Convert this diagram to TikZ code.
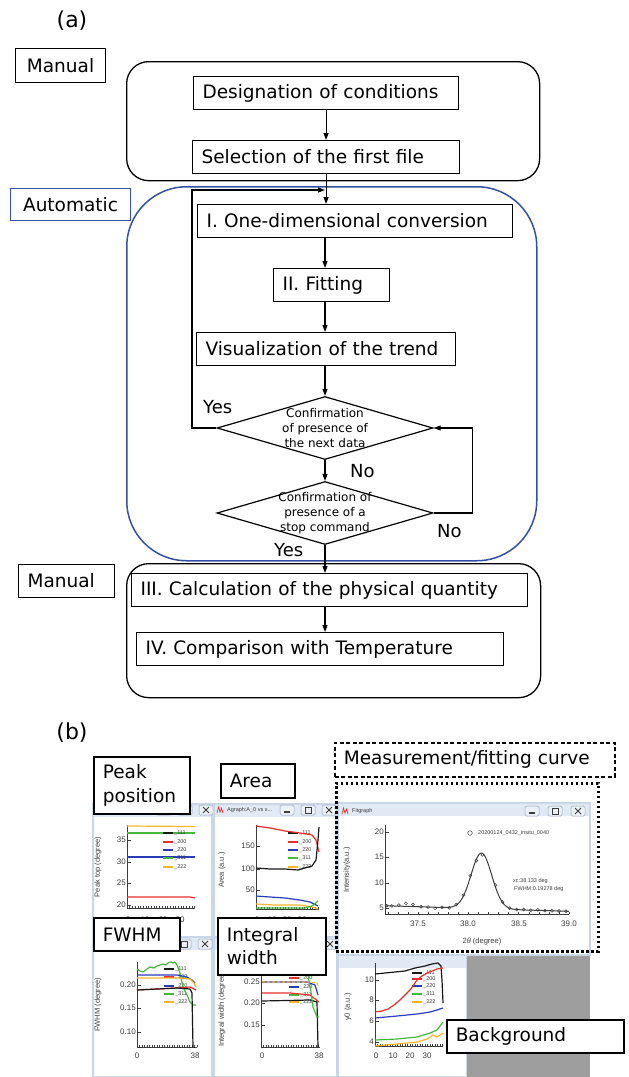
\documentclass[tikz,border=0pt]{standalone}
\usepackage{fontspec}
\setmainfont{DejaVu Sans}
\newfontfamily\plotf{Liberation Sans}
\usetikzlibrary{arrows.meta,shapes.geometric,calc}
\definecolor{autoblue}{RGB}{50,80,165}
\definecolor{wborder}{RGB}{200,214,232}
\definecolor{wtitle}{RGB}{224,233,244}
\definecolor{btnfill}{RGB}{236,241,248}
\definecolor{btnline}{RGB}{150,165,185}
\definecolor{pred}{RGB}{236,45,45}
\definecolor{pblue}{RGB}{40,60,185}
\definecolor{pgreen}{RGB}{70,185,60}
\definecolor{porange}{RGB}{255,180,40}
\definecolor{pblack}{RGB}{25,25,25}
\definecolor{graybg}{RGB}{158,158,158}
\definecolor{tickgray}{RGB}{60,60,60}
\tikzset{
  flowbox/.style={draw, line width=1.1pt, font=\fontsize{18.5}{22}\selectfont, inner xsep=9pt, inner ysep=0pt, minimum height=33pt, align=left, anchor=north west},
  tagbox/.style={draw, line width=1.1pt, fill=white, font=\fontsize{18.5}{22}\selectfont, inner xsep=9pt, inner ysep=0pt, anchor=north west},
  grp/.style={draw, line width=1.3pt, anchor=north west, inner sep=0pt},
  dia/.style={draw, diamond, line width=1.2pt, minimum width=216pt, minimum height=63pt, inner sep=0pt, aspect=3.43},
  diatext/.style={font=\fontsize{12}{15}\selectfont, align=center, inner sep=0pt},
  arr/.style={line width=1.1pt, -{Triangle[length=7pt,width=5pt]}},
  yn/.style={font=\fontsize{18}{20}\selectfont, inner sep=0pt, anchor=west},
  panel/.style={font=\fontsize{22}{24}\selectfont, inner sep=0pt},
  labbox/.style={draw, line width=1.6pt, fill=white, font=\fontsize{18.5}{23.5}\selectfont, inner xsep=9pt, inner ysep=0pt, align=left, anchor=north west},
  axisline/.style={tickgray, line width=0.8pt},
  ticklab/.style={font=\plotf\fontsize{8}{9}\selectfont, text=tickgray, inner sep=0.5pt},
  axlab/.style={font=\plotf\fontsize{7.5}{9}\selectfont, text=tickgray, inner sep=0pt, rotate=90},
  leglab/.style={font=\plotf\fontsize{5.5}{6}\selectfont, text=tickgray, inner sep=0pt},
  pl/.style={line width=1.2pt, line join=round},
}
\newcommand\plotaxes[5]{%
  \draw[axisline] (#1,#2) -- (#1,#4) -- (#3,#4);
  \pgfmathtruncatemacro\nmin{(#3-#1)/#5}%
  \foreach \k in {0,...,\nmin}{\draw[axisline,line width=0.45pt] ({#1+\k*#5},#4) -- ++(0,-2.2);}%
}
\newcommand\ytk[4]{\draw[axisline] (#2,#3) -- ++(4,0); \node[ticklab,anchor=east] (#1) at (#2-0.5,#3) {#4};}
\newcommand\xtl[4]{\node[ticklab] (#1) at (#2,#3) {#4};}
\newcommand\legitem[5]{\draw[#4, line width=1.3pt] (#2,#3) -- ++(10,0); \node[leglab,anchor=west] (#1) at (#2+11,#3) {#5};}
\newcommand\appwin[4]{%
  \fill[white] (#1,#2) rectangle (#3,#4);
  \fill[wtitle] (#1,#2) rectangle (#3,#2+13);
  \draw[wborder,line width=1.3pt] (#1,#2) rectangle (#3,#4);}
\newcommand\btnbox[2]{\draw[btnline,fill=btnfill,rounded corners=1.5pt,line width=0.5pt] (#1-7,#2-5) rectangle (#1+7,#2+5);}
\newcommand\btnset[3]{%
  \btnbox{#1-2*#3}{#2}\draw[tickgray,line width=1.1pt] (#1-2*#3-3,#2+2) -- (#1-2*#3+3,#2+2);
  \btnbox{#1-#3}{#2}\draw[tickgray,line width=0.7pt] (#1-#3-3,#2-3) rectangle (#1-#3+3,#2+3);
  \btnbox{#1}{#2}\draw[tickgray,line width=0.9pt] (#1-3,#2-3) -- (#1+3,#2+3) (#1-3,#2+3) -- (#1+3,#2-3);}
\newcommand\appicon[2]{\draw[pred,line width=0.7pt] (#1-3,#2+3) -- (#1-1.5,#2-3) -- (#1,#2+2) -- (#1+1.5,#2-2) -- (#1+3,#2+3);}
\begin{document}
\begin{tikzpicture}[x=1pt,y=-1pt]
\useasboundingbox (0,0) rectangle (629,1077);
\fill[white] (0,0) rectangle (629,1077);
% ================= (a) =================
\node[panel] (pa) at (72,21) {(a)};
\node[grp, rounded corners=22pt, minimum width=413pt, minimum height=119pt] (grpM1) at (126,61) {};
\node[grp, draw=autoblue, line width=1.5pt, rounded corners=60pt, minimum width=410pt, minimum height=374pt] (grpA) at (126,186) {};
\node[grp, rounded corners=22pt, minimum width=414pt, minimum height=134pt] (grpM2) at (126,563) {};
\node[tagbox, minimum width=90pt, minimum height=34pt, inner xsep=0pt] (man1) at (15,48) {Manual};
\node[tagbox, draw=autoblue, minimum width=120pt, minimum height=32pt, inner xsep=0pt] (auto) at (10,188) {Automatic};
\node[tagbox, text width=78pt, minimum height=33pt, align=left] (man2) at (18,564) {Manual};
\node[flowbox, text width=247pt] (desig) at (193,76) {\mbox{Designation of conditions}};
\node[flowbox, text width=249pt] (sel) at (192,140) {\mbox{Selection of the first file}};
\node[flowbox, text width=297pt] (conv) at (197,204) {\mbox{I. One-dimensional conversion}};
\node[flowbox, text width=98pt] (fitb) at (273,268) {\mbox{II. Fitting}};
\node[flowbox, text width=241pt] (vis) at (196,332) {\mbox{Visualization of the trend}};
\node[dia] (d1) at (325,428) {};
\node[diatext] (d1t) at (325,428) {Confirmation\\of presence of\\the next data};
\node[dia] (d2) at (325,513) {};
\node[diatext] (d2t) at (325,513) {Confirmation of\\presence of a\\stop command};
\node[flowbox, text width=378pt] (calc) at (131,573) {\mbox{III. Calculation of the physical quantity}};
\node[flowbox, text width=349pt] (comp) at (136,632) {\mbox{IV. Comparison with Temperature}};
\coordinate (loopin) at (325,190);
\coordinate (lc) at (192,190);
\draw[arr] (desig.south) -- (sel.north);
\draw[arr] (sel.south) -- (sel.south |- conv.north);
\draw[arr] (d1.west) -| (lc) -- (loopin);
\draw[arr] (conv.south -| d1.north) -- (fitb.north -| d1.north);
\draw[arr] (fitb.south -| d1.north) -- (vis.north -| d1.north);
\draw[arr] (vis.south -| d1.north) -- (d1.north);
\draw[arr] (d1.south) -- (d2.north);
\draw[arr] (d2.east) -- ++(39,0) |- (d1.east);
\draw[arr] (d2.south) -- (d2.south |- calc.north);
\draw[arr] (calc.south -| d2.south) -- (comp.north -| d2.south);
\node[yn] (yes1) at (203,407) {Yes};
\node[yn] (no1) at (350,471) {No};
\node[yn] (no2) at (437,531) {No};
\node[yn] (yes2) at (274,550) {Yes};
% ================= (b) =================
\node[panel] (pb) at (72,733) {(b)};
% windows
\appwin{93}{804}{212}{937}
\btnset{206}{810}{21}
\appwin{214}{804}{336}{937}
\btnset{329}{810}{21}
\appicon{220}{810}
\node[leglab,anchor=west] (w2t) at (227,810) {Agraph:A\_0 vs x...};
\appwin{93}{937}{212}{1077}
\btnset{205}{944}{21}
\appwin{214}{937}{337}{1077}
\btnset{330}{944}{21}
\appwin{338}{955}{467}{1077}
\fill[graybg] (467,955) rectangle (590,1077);
\appwin{338}{803}{590}{955}
\btnset{578}{811}{23}
\appicon{345}{811}
\node[leglab,anchor=west] (w3t) at (352,811) {Fitgraph};
% --- peak position plot
\plotaxes{127}{825}{195}{908}{2.7}
\ytk{pk35}{127}{840}{35}
\ytk{pk30}{127}{862}{30}
\ytk{pk25}{127}{883}{25}
\ytk{pk20}{127}{905}{20}
\xtl{pkx0}{128}{920}{0}
\xtl{pkx1}{145}{920}{10}
\xtl{pkx2}{163}{920}{20}
\xtl{pkx3}{180}{920}{30}
\node[axlab] (pky) at (98,867) {Peak top (degree)};
\draw[pl,porange] (127,826) -- (195,826.5);
\draw[pl,pgreen] (127,833) -- (195,833);
\draw[pl,pblue] (127,857) -- (195,857);
\draw[pl,pred] (127,897) -- (190,897) -- (195,898);
\legitem{pkl1}{163}{833}{pblack}{\_111}
\legitem{pkl2}{163}{842}{pred}{\_200}
\legitem{pkl3}{163}{850}{pblue}{\_220}
\legitem{pkl4}{163}{858}{pgreen}{\_311}
\legitem{pkl5}{163}{867}{porange}{\_222}
% --- area plot
\plotaxes{256}{825}{319}{909}{2.7}
\ytk{ar150}{256}{846}{150}
\ytk{ar100}{256}{869}{100}
\ytk{ar50}{256}{890}{50}
\xtl{arx0}{257}{920}{0}
\xtl{arx1}{272}{920}{10}
\xtl{arx2}{287}{920}{20}
\xtl{arx3}{302}{920}{30}
\node[axlab] (ary) at (222,870) {Area (a.u.)};
\legitem{arl1}{288}{833}{pblack}{\_111}
\legitem{arl2}{288}{842}{pred}{\_200}
\legitem{arl3}{288}{850}{pblue}{\_220}
\legitem{arl4}{288}{858}{pgreen}{\_311}
\legitem{arl5}{288}{867}{porange}{\_222}
\draw[pl,pred] plot coordinates {(256,826) (270,828) (285,831) (300,833) (312,835) (316,840) (319,852)};
\draw[pl,pblack] plot coordinates {(256,868) (270,869) (285,869) (298,870) (305,868) (312,866) (316,860) (318,840) (319,827)};
\draw[pl,pblue] plot coordinates {(256,896) (270,897) (285,898) (300,900) (310,902) (318,906)};
\draw[pl,porange] plot coordinates {(256,904) (275,905) (300,905) (312,907) (318,909)};
\draw[pl,pgreen] plot coordinates {(256,908) (280,908) (305,908) (312,906) (318,901)};
% --- fit plot
\draw[axisline] (385,825) -- (385,914) -- (569,914);
\foreach \t in {37.2,37.3,...,39.05}{\draw[axisline,line width=0.5pt] ({418+(\t-37.5)*100.7},914) -- ++(0,-2.5);}
\ytk{ft20}{385}{832}{20}
\ytk{ft15}{385}{857}{15}
\ytk{ft10}{385}{883}{10}
\ytk{ft5}{385}{908}{5}
\xtl{ftx1}{418}{924}{37.5}
\xtl{ftx2}{468}{924}{38.0}
\xtl{ftx3}{519}{924}{38.5}
\xtl{ftx4}{569}{924}{39.0}
\node[axlab] (fty) at (347,870) {Intensity(a.u.)};
\node[ticklab, font=\plotf\fontsize{7.5}{9}\selectfont] (ftxl) at (482,942) {2\textit{θ} (degree)};
\draw[tickgray, line width=1pt, smooth] plot[domain=37.17:39.0, samples=160] ({418+(\x-37.5)*100.7},{908-5.1*(0.45-0.6*(\x-37.17)+10.9*exp(-((\x-38.13)*(\x-38.13))/0.021))});
\foreach \t/\n in {37.19/0,37.24/0,37.31/0.2,37.38/0.6,37.45/0.4,37.53/0,37.60/0,37.67/-0.2,37.74/0,37.81/-0.1,37.88/0.1,37.95/0.2,38.02/0.3,38.08/-0.3,38.14/-0.3,38.27/0.4,38.34/0.1,38.41/0,38.48/0,38.55/0.1,38.62/0,38.69/0.1,38.76/0,38.83/0,38.90/0,38.97/0}{
  \draw[tickgray, line width=0.5pt] ({418+(\t-37.5)*100.7},{908-5.1*(0.45-0.6*(\t-37.17)+10.9*exp(-((\t-38.13)*(\t-38.13))/0.021)+\n)}) circle (1.5pt);}
\draw[tickgray, line width=0.5pt] (470,833) circle (2.3pt);
\node[leglab,anchor=west] (ftleg) at (478,833) {20200124\_0432\_insitu\_0040};
\node[leglab,anchor=west] (ftxc) at (513,881) {xc:38.133 deg};
\node[leglab,anchor=west] (ftfw) at (514,889) {FWHM:0.19278 deg};
% --- FWHM plot
\plotaxes{137}{962}{197}{1047}{2.5}
\ytk{fw20}{137}{985}{0.20}
\ytk{fw15}{137}{1008}{0.15}
\ytk{fw10}{137}{1032}{0.10}
\xtl{fwx0}{137}{1056}{0}
\xtl{fwx1}{195}{1056}{38}
\node[axlab] (fwy) at (98,1005) {FWHM (degree)};
\legitem{fwl1}{164}{969}{pblack}{\_111}
\legitem{fwl2}{164}{977}{pred}{\_200}
\legitem{fwl3}{164}{986}{pblue}{\_220}
\legitem{fwl4}{164}{994}{pgreen}{\_311}
\legitem{fwl5}{164}{1002}{porange}{\_222}
\draw[pl,pgreen] plot coordinates {(137,969) (140,971) (143,972) (147,969) (150,967) (154,968) (157,966) (160,965) (163,964) (166,965) (168,963) (171,962) (173,963) (175,962) (177,965) (180,973) (183,987) (187,995) (190,1002) (193,1005) (196,1005)};
\draw[pl,pblue] plot coordinates {(137,975) (177,975) (187,977) (192,980) (195,983)};
\draw[pl,porange] plot coordinates {(137,978) (177,978) (190,979) (194,983) (196,987)};
\draw[pl,pred] plot coordinates {(137,990) (157,989) (177,988) (190,987) (196,990)};
\draw[pl,pblack] plot coordinates {(137,990) (157,989) (177,988) (190,989) (192,993) (193,1047)};
% --- integral width plot
\plotaxes{261}{963}{320}{1047}{2.5}
\ytk{iw25}{261}{982}{0.25}
\ytk{iw20}{261}{1003}{0.20}
\ytk{iw15}{261}{1025}{0.15}
\xtl{iwx0}{262}{1056}{0}
\xtl{iwx1}{319}{1056}{38}
\node[axlab, anchor=west] (iwy) at (222,1047) {Integral width (degree)};
\legitem{iwl2}{289}{978}{pred}{\_200}
\legitem{iwl3}{289}{987}{pblue}{\_220}
\legitem{iwl4}{289}{995}{pgreen}{\_311}
\legitem{iwl5}{289}{1002}{porange}{\_222}
\draw[pl,pblue] plot coordinates {(262,982) (307,982) (315,985) (318,995)};
\draw[pl,porange,dash pattern=on 3pt off 2pt] plot coordinates {(262,982) (307,982) (317,983) (319,988)};
\draw[pl,pred] plot coordinates {(262,993) (290,993) (310,995) (319,1002)};
\draw[pl,pblack] plot coordinates {(262,1001) (310,1000) (317,1002) (318,1047)};
\draw[pl,pgreen] plot coordinates {(262,969) (305,969) (308,975) (311,992) (313,1007) (317,1017) (319,1017)};
% --- y0 plot
\plotaxes{375}{963}{443}{1046}{2.5}
\ytk{y010}{375}{980}{10}
\ytk{y08}{375}{1000}{8}
\ytk{y06}{375}{1021}{6}
\ytk{y04}{375}{1042}{4}
\xtl{y0x0}{376}{1056}{0}
\xtl{y0x1}{393}{1056}{10}
\xtl{y0x2}{410}{1056}{20}
\xtl{y0x3}{427}{1056}{30}
\node[axlab] (y0y) at (348,1007) {y0 (a.u.)};
\legitem{y0l1}{412}{973}{pblack}{\_111}
\legitem{y0l2}{412}{979}{pred}{\_200}
\legitem{y0l3}{412}{986}{pblue}{\_220}
\legitem{y0l4}{412}{994}{pgreen}{\_311}
\legitem{y0l5}{412}{1002}{porange}{\_222}
\draw[pl,pblack] plot coordinates {(375,974) (385,973) (395,972) (405,971) (415,968) (425,966) (432,964) (438,963) (441,966) (442,980) (443,1003)};
\draw[pl,pred] plot coordinates {(375,1012) (382,1011) (388,1009) (394,1005) (400,1000) (405,995) (410,990) (417,980) (422,976) (427,973) (437,969) (443,968)};
\draw[pl,pblue] plot coordinates {(375,1018) (386,1017) (397,1016) (407,1015) (417,1014) (430,1012) (437,1010) (443,1008)};
\draw[pl,pgreen] plot coordinates {(375,1040) (397,1039) (417,1037) (430,1033) (437,1030) (443,1022)};
\draw[pl,porange] plot coordinates {(375,1046) (397,1044) (417,1042) (427,1039) (433,1035) (437,1037) (443,1033)};
% --- label boxes
\node[labbox, minimum height=57pt, text width=78pt] (lpeak) at (93,756) {Peak\\position};
\node[labbox, minimum height=34pt, text width=56pt] (larea) at (220,763) {Area};
\node[labbox, dash pattern=on 4pt off 2.5pt, minimum height=34pt, text width=262pt] (lmeas) at (334,742) {\mbox{Measurement/fitting curve}};
\node[draw, line width=2.6pt, dash pattern=on 2.6pt off 2.4pt, anchor=north west, minimum width=262pt, minimum height=168pt, inner sep=0pt] (dotbox) at (335,782) {};
\node[labbox, minimum height=33pt, text width=68pt] (lfwhm) at (93,917) {FWHM};
\node[labbox, minimum height=57pt, text width=90pt] (lint) at (217,917) {Integral\\width};
\node[labbox, minimum height=33pt, text width=159pt] (lback) at (446,1019) {Background};
\end{tikzpicture}
\end{document}
